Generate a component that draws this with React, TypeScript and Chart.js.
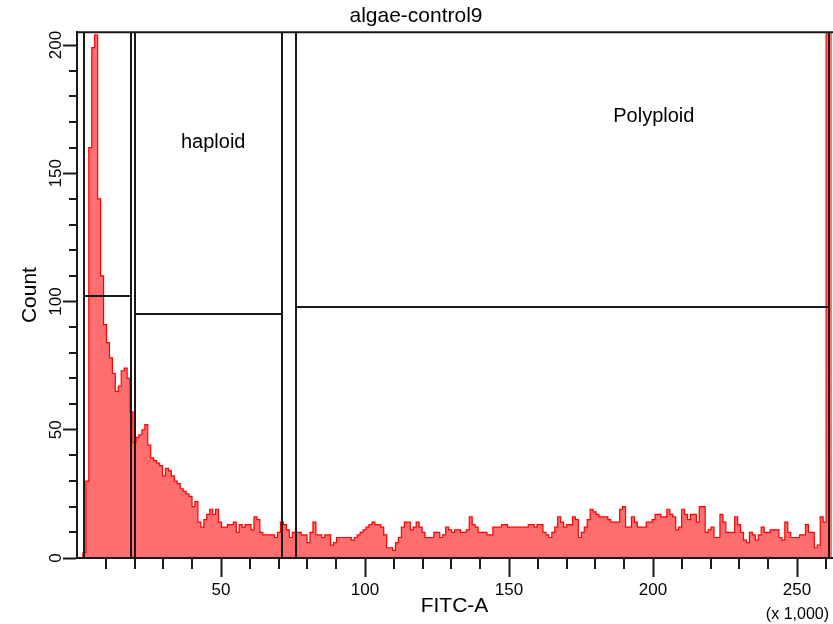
import React, { useEffect, useRef } from 'react';
import { Chart, registerables } from 'chart.js';

Chart.register(...registerables);

const TITLE = 'algae-control9';
const X_TITLE = 'FITC-A';
const Y_TITLE = 'Count';
const X_UNIT = '(x 1,000)';
const X_MAX = 262.144;
const Y_MAX = 205;
const BIN_WIDTH = 1.024;

// histogram counts, 256 bins of 1,024 channels each
const COUNTS = [
  0, 0, 0, 2,
  30, 160, 199, 204, 140, 110,
  91, 84, 78, 72, 65, 67, 73, 74, 70, 57,
  45, 47, 48, 50, 52, 44, 39, 38, 37, 36,
  32, 35, 34, 32, 30, 29, 27, 26, 25, 24,
  20, 22, 14, 12, 15, 17, 19, 17, 19, 14,
  12, 12, 13, 13, 14, 10, 13, 12, 13, 13,
  11, 16, 15, 10, 9, 9, 9, 9, 8, 10,
  14, 13, 11, 8, 10, 10, 10, 9, 9, 6,
  10, 14, 9, 9, 8, 9, 9, 5, 6, 8,
  8, 8, 8, 8, 7, 8, 9, 10, 11, 12,
  13, 14, 13, 13, 12, 9, 4, 4, 3, 6,
  8, 12, 14, 14, 11, 12, 14, 12, 10, 8,
  8, 8, 10, 10, 8, 9, 12, 11, 10, 11,
  11, 10, 10, 11, 16, 13, 12, 10, 10, 10,
  9, 9, 12, 12, 12, 13, 13, 12, 12, 12,
  12, 12, 12, 12, 13, 13, 12, 13, 13, 10,
  9, 8, 10, 12, 16, 14, 12, 13, 13, 16,
  15, 8, 10, 12, 15, 19, 18, 17, 16, 16,
  16, 15, 14, 14, 14, 19, 20, 12, 12, 16,
  14, 12, 12, 12, 14, 14, 15, 17, 17, 16,
  16, 19, 17, 16, 11, 12, 19, 17, 15, 17,
  17, 14, 20, 20, 10, 11, 12, 8, 8, 17,
  14, 10, 10, 10, 16, 13, 10, 7, 6, 10,
  9, 7, 9, 12, 10, 10, 11, 11, 11, 8,
  7, 14, 10, 8, 8, 8, 9, 9, 13, 10,
  10, 4, 5, 16, 14, 250,
];

const X_TICK_LABELS = [50, 100, 150, 200, 250];
const Y_TICK_LABELS = [0, 50, 100, 150, 200];

// gates (x in thousands, level in counts)
const GATE_NAMES = ['', 'haploid', 'Polyploid'];
const GATE_START = [2.5, 20.2, 76.2];
const GATE_END = [18.8, 71.3, 261.0];
const GATE_LEVEL = [102, 95, 98];

// gate label anchors (left x in thousands, baseline in counts)
const GATE_LABEL_X = [0, 36.1, 186.2];
const GATE_LABEL_Y = [0, 160, 170];

const FONT = '"Liberation Sans", Arial, sans-serif';
const INK = '#1a1a1a';

const overlay = {
  id: 'overlay',
  afterDraw(chart: any) {
    const { ctx, chartArea: a, scales } = chart;
    const x = scales.x;
    const y = scales.y;
    ctx.save();
    ctx.strokeStyle = INK;
    ctx.lineWidth = 2;
    ctx.lineCap = 'butt';
    const seg = (x1: number, y1: number, x2: number, y2: number) => {
      ctx.beginPath();
      ctx.moveTo(x1, y1);
      ctx.lineTo(x2, y2);
      ctx.stroke();
    };
    // top frame
    seg(a.left - 1, a.top, a.right + 1, a.top);
    // gates
    for (let i = 0; i < GATE_START.length; i++) {
      const x1 = Math.round(x.getPixelForValue(GATE_START[i]));
      const x2 = Math.round(x.getPixelForValue(GATE_END[i]));
      const gy = Math.round(y.getPixelForValue(GATE_LEVEL[i]));
      seg(x1, a.top, x1, a.bottom);
      seg(x2, a.top, x2, a.bottom);
      seg(x1, gy, x2, gy);
    }
    // minor ticks
    for (let v = 10; v < X_MAX; v += 10) {
      if (v % 50 === 0) continue;
      const px = Math.round(x.getPixelForValue(v));
      seg(px, a.bottom, px, a.bottom + 11);
    }
    for (let v = 10; v <= 200; v += 10) {
      if (v % 50 === 0) continue;
      const py = Math.round(y.getPixelForValue(v));
      seg(a.left - 8, py, a.left, py);
    }
    // rotated y tick labels
    ctx.fillStyle = '#000';
    ctx.font = `17px ${FONT}`;
    ctx.textAlign = 'center';
    ctx.textBaseline = 'middle';
    for (const v of Y_TICK_LABELS) {
      const py = y.getPixelForValue(v);
      ctx.save();
      ctx.translate(a.left - 21, py);
      ctx.rotate(-Math.PI / 2);
      ctx.fillText(String(v), 0, 0);
      ctx.restore();
    }
    // unit label
    ctx.font = `16px ${FONT}`;
    ctx.textAlign = 'right';
    ctx.fillText(X_UNIT, a.right - 3, 615);
    // gate labels
    ctx.font = `20px ${FONT}`;
    ctx.textAlign = 'left';
    ctx.textBaseline = 'alphabetic';
    for (let i = 0; i < GATE_NAMES.length; i++) {
      if (!GATE_NAMES[i]) continue;
      ctx.fillText(GATE_NAMES[i], x.getPixelForValue(GATE_LABEL_X[i]), y.getPixelForValue(GATE_LABEL_Y[i]));
    }
    ctx.restore();
  },
};

export default function App() {
  const ref = useRef<HTMLCanvasElement | null>(null);
  useEffect(() => {
    const canvas = ref.current;
    if (!canvas) return;
    const points = COUNTS.map((c, i) => ({ x: i * BIN_WIDTH, y: c }));
    points.push({ x: COUNTS.length * BIN_WIDTH, y: COUNTS[COUNTS.length - 1] });
    const chart = new Chart(canvas, {
      type: 'line',
      data: {
        datasets: [
          {
            data: points,
            stepped: 'after',
            fill: 'origin',
            borderColor: '#ff0000',
            backgroundColor: '#ff6e6e',
            borderWidth: 1.2,
            pointRadius: 0,
          },
        ],
      },
      options: {
        responsive: false,
        animation: false,
        events: [],
        layout: { padding: { left: 0, right: 1, top: 0, bottom: 0 } },
        plugins: {
          legend: { display: false },
          tooltip: { enabled: false },
          title: {
            display: true,
            text: TITLE,
            color: '#000',
            font: { family: FONT, size: 21, weight: 'normal' },
            padding: { top: 4, bottom: 3 },
          },
        },
        scales: {
          x: {
            type: 'linear',
            min: 0,
            max: X_MAX,
            afterFit: (s: any) => {
              s.height = 66;
            },
            border: { display: true, color: INK, width: 2, z: 1 },
            grid: {
              drawOnChartArea: false,
              drawTicks: true,
              tickLength: 19,
              tickWidth: 2,
              tickColor: (c: any) =>
                c.tick && X_TICK_LABELS.includes(Math.round(c.tick.value)) ? INK : 'rgba(0,0,0,0)',
            },
            ticks: {
              stepSize: 10,
              includeBounds: false,
              autoSkip: false,
              maxRotation: 0,
              minRotation: 0,
              padding: 3,
              color: '#000',
              font: { family: FONT, size: 17 },
              callback: (v: any) => (X_TICK_LABELS.includes(Math.round(Number(v))) ? String(Math.round(Number(v))) : ''),
            },
            title: {
              display: true,
              text: X_TITLE,
              color: '#000',
              font: { family: FONT, size: 21 },
              padding: { top: 0, bottom: 5 },
            },
          },
          y: {
            type: 'linear',
            min: 0,
            max: Y_MAX,
            afterFit: (s: any) => {
              s.width = 77;
            },
            border: { display: true, color: INK, width: 2, z: 1 },
            grid: {
              drawOnChartArea: false,
              drawTicks: true,
              tickLength: 14,
              tickWidth: 2,
              tickColor: (c: any) =>
                c.tick && Y_TICK_LABELS.includes(Math.round(c.tick.value)) ? INK : 'rgba(0,0,0,0)',
            },
            ticks: {
              display: false,
              stepSize: 10,
              includeBounds: false,
            },
            title: {
              display: true,
              text: Y_TITLE,
              color: '#000',
              font: { family: FONT, size: 21 },
              padding: { top: 18, bottom: 0 },
            },
          },
        },
      },
      plugins: [overlay],
    });
    return () => chart.destroy();
  }, []);
  return (
    <div style={{ position: 'fixed', left: 0, top: 0, width: 833, height: 624, background: '#fff' }}>
      <canvas ref={ref} width={833} height={624} style={{ display: 'block', width: 833, height: 624 }} />
    </div>
  );
}
